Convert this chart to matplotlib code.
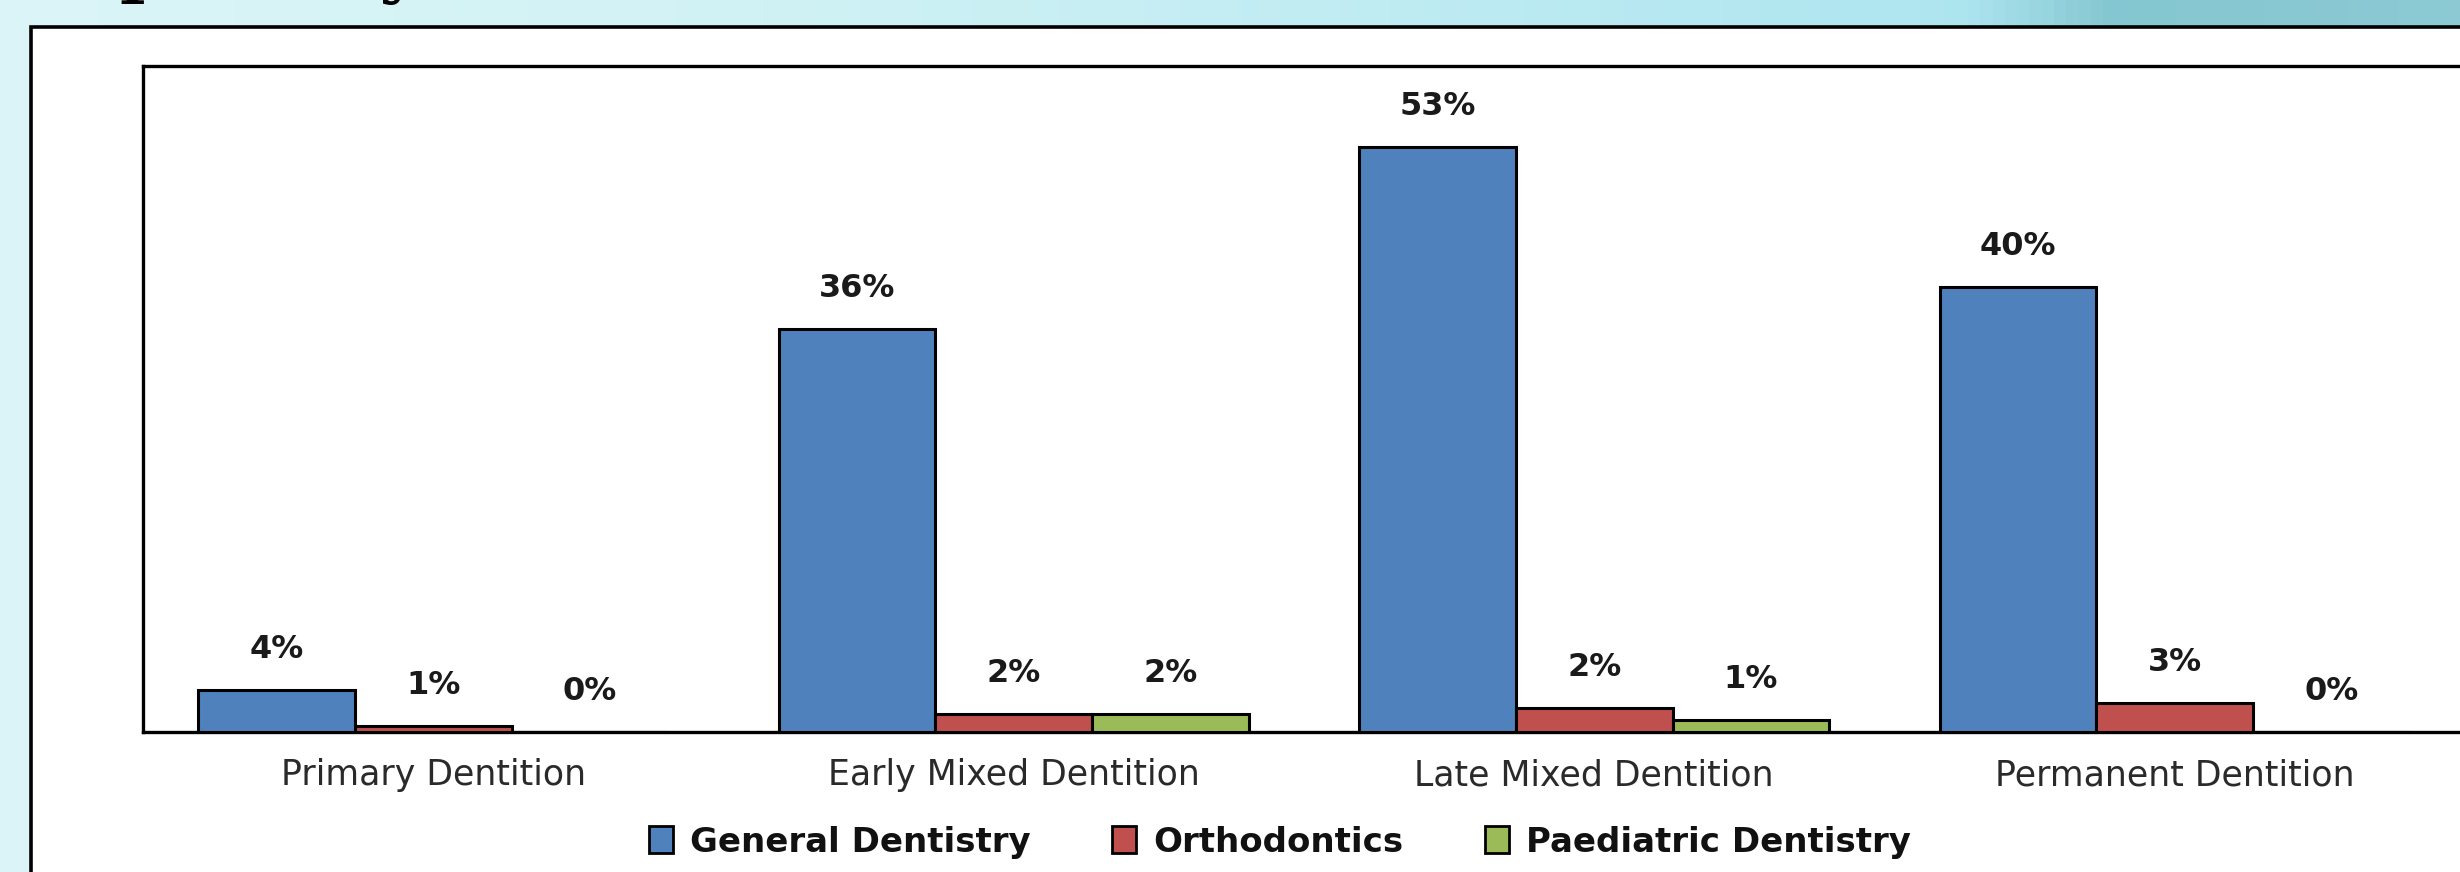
import matplotlib
matplotlib.use('Agg')
import matplotlib.pyplot as plt
import matplotlib.patches as mpatches
import numpy as np

# data (percent)
categories = ['Primary Dentition', 'Early Mixed Dentition', 'Late Mixed Dentition', 'Permanent Dentition']
series_names = ['General Dentistry', 'Orthodontics', 'Paediatric Dentistry']
general = [3.8, 36.3, 52.7, 40.1]
ortho = [0.5, 1.6, 2.2, 2.6]
paed = [0.0, 1.6, 1.1, 0.0]
labels_general = ['4%', '36%', '53%', '40%']
labels_ortho = ['1%', '2%', '2%', '3%']
labels_paed = ['0%', '2%', '1%', '0%']

colors = ['#4F81BD', '#C0504D', '#9BBB59']

W, H = 2460, 872
fig = plt.figure(figsize=(W/100, H/100), dpi=100)

# slide background (cyan texture)
bg = fig.add_axes([0, 0, 1, 1], zorder=-10)
xs = np.linspace(0, 1, 200)
r = np.interp(xs, [0, 0.3, 0.6, 0.8, 0.86, 1.0], [0.86, 0.82, 0.74, 0.68, 0.52, 0.55])
g = np.interp(xs, [0, 0.3, 0.6, 0.8, 0.86, 1.0], [0.96, 0.95, 0.92, 0.90, 0.78, 0.79])
b = np.interp(xs, [0, 0.3, 0.6, 0.8, 0.86, 1.0], [0.97, 0.96, 0.95, 0.94, 0.82, 0.83])
img = np.stack([r, g, b], axis=-1)[None, :, :].repeat(10, axis=0)
bg.imshow(img, aspect='auto', extent=[0, 1, 0, 1])
bg.set_axis_off()

# partly hidden slide title (only descenders show)
fig.text(72/W, 1 + 10/H, 'Specialty', family='DejaVu Serif', weight='bold',
         fontsize=49, va='baseline', ha='left', color='black', zorder=-6)

# white chart frame
frame = mpatches.Rectangle((31/W, -0.05), 1.0, 1 - 27/H + 0.05, transform=fig.transFigure,
                           facecolor='white', edgecolor='black', linewidth=2.6, zorder=-5)
fig.patches.append(frame)

left, right = 143/W, 2465/W
bottom, top = 1 - 732/H, 1 - 66/H
ax = fig.add_axes([left, bottom, right - left, top - bottom])
ax.set_facecolor('white')

x = np.arange(len(categories))
w = 0.27
all_vals = [general, ortho, paed]
all_labels = [labels_general, labels_ortho, labels_paed]
for k in range(3):
    pos = x + (k - 1)*w
    ax.bar(pos, all_vals[k], width=w, color=colors[k], edgecolor='black', linewidth=2.2,
           label=series_names[k], zorder=3)
    for p, v, t in zip(pos, all_vals[k], all_labels[k]):
        ax.annotate(t, (p, v), xytext=(0, 18), textcoords='offset points', ha='center',
                    va='bottom', fontsize=23, fontweight='bold', color='#1a1a1a')

ax.set_xlim(-0.5, 3.5)
ax.set_ylim(0, 60)
ax.set_yticks([])
ax.set_xticks(x)
ax.set_xticklabels(categories, fontsize=25, color='#2a2a2a')
ax.tick_params(axis='x', length=0, pad=19)
for s in ['left', 'top', 'bottom', 'right']:
    ax.spines[s].set_linewidth(2.4)
    ax.spines[s].set_color('black')

handles = [mpatches.Patch(facecolor=c, edgecolor='black', linewidth=2) for c in colors]
L = fig.legend(handles, series_names, loc='center', bbox_to_anchor=(1280/W, 1 - 842/H),
               ncol=3, frameon=False, handlelength=0.7, handleheight=0.85,
               handletextpad=0.5, columnspacing=2.4,
               prop={'size': 24.5, 'weight': 'bold'})
for t in L.get_texts():
    t.set_color('#111111')

fig.savefig('out.png', dpi=100)
